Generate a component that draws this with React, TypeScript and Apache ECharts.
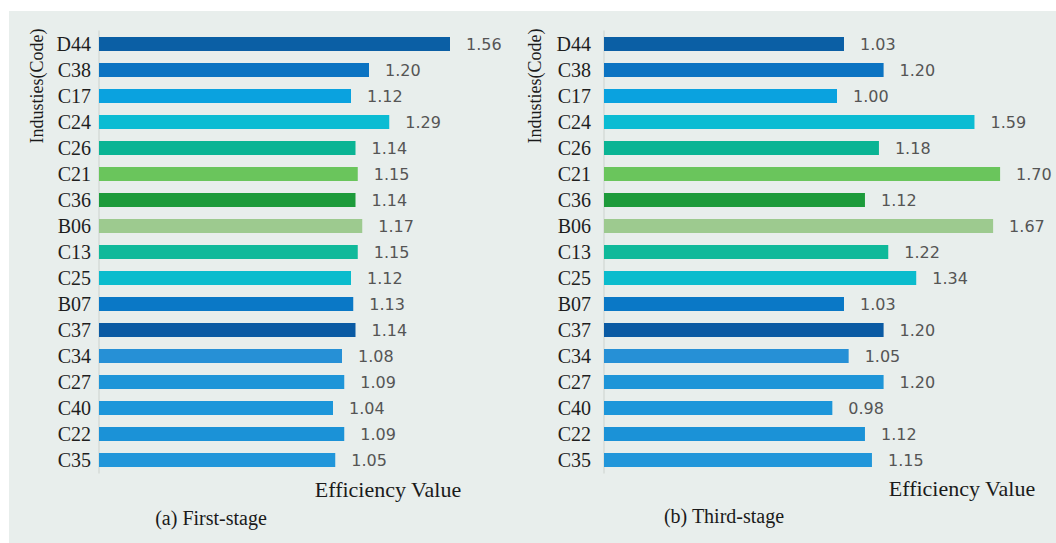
import React, { useEffect, useRef } from "react";
import * as echarts from "echarts";

const categories = ["D44", "C38", "C17", "C24", "C26", "C21", "C36", "B06", "C13", "C25", "B07", "C37", "C34", "C27", "C40", "C22", "C35"];
const firstStage = [1.56, 1.2, 1.12, 1.29, 1.14, 1.15, 1.14, 1.17, 1.15, 1.12, 1.13, 1.14, 1.08, 1.09, 1.04, 1.09, 1.05];
const thirdStage = [1.03, 1.2, 1.0, 1.59, 1.18, 1.7, 1.12, 1.67, 1.22, 1.34, 1.03, 1.2, 1.05, 1.2, 0.98, 1.12, 1.15];
const barColors = ["#0b5fa5", "#0b73c2", "#0aa2df", "#0bbcd3", "#0ab494", "#6ac55c", "#1d9b3b", "#9dca8f", "#0fb99a", "#0bbccd", "#0a78c6", "#0a5aa3", "#2690d6", "#1e95d8", "#1c96da", "#1b92d7", "#2196da"];
const axisTitle = "Industies(Code)";
const valueTitle = "Efficiency Value";
const panelTitles = ["(a) First-stage", "(b) Third-stage"];

const serif = "Times New Roman, Liberation Serif, serif";
const sans = "DejaVu Sans";

export default function App() {
  const ref = useRef<HTMLDivElement>(null);
  useEffect(() => {
    if (!ref.current) return;
    const chart = echarts.init(ref.current, undefined, { renderer: "svg" });
    const mkY = (gi: number, margin: number) => ({
      type: "category",
      gridIndex: gi,
      data: categories,
      inverse: true,
      axisTick: { show: false },
      axisLine: { show: true, lineStyle: { color: "#d6dbd9", width: 1.5 } },
      axisLabel: { interval: 0, hideOverlap: false, fontFamily: serif, fontSize: 20, color: "#1e1e1e", margin },
    });
    const mkX = (gi: number, max: number) => ({
      type: "value",
      gridIndex: gi,
      min: 0,
      max,
      show: false,
      splitLine: { show: false },
    });
    const mkSeries = (gi: number, vals: number[]) => ({
      type: "bar",
      xAxisIndex: gi,
      yAxisIndex: gi,
      barWidth: 14,
      data: vals.map((v, i) => ({ value: v, itemStyle: { color: barColors[i] } })),
      label: {
        show: true,
        position: "right",
        distance: 16,
        fontFamily: sans,
        fontSize: 16,
        color: "#555",
        formatter: (p: any) => Number(p.value).toFixed(2),
      },
    });
    const txt = (x: number, y: number, text: string, size: number, rot = 0) => ({
      type: "text",
      x,
      y,
      rotation: rot,
      style: { text, fontFamily: serif, fontSize: size, fill: "#1a1a1a", align: "center", verticalAlign: "middle" },
    });
    chart.setOption({
      animation: false,
      backgroundColor: "#ffffff",
      grid: [
        { left: 99, top: 31, width: 450, height: 442 },
        { left: 604, top: 31, width: 419.4, height: 442 },
      ],
      xAxis: [mkX(0, 2), mkX(1, 1.8)],
      yAxis: [mkY(0, 8), mkY(1, 13)],
      series: [mkSeries(0, firstStage), mkSeries(1, thirdStage)],
      graphic: [
        { type: "rect", z: -10, silent: true, shape: { x: 9, y: 11, width: 1047, height: 532 }, style: { fill: "#e8eeec" } },
        txt(37, 86, axisTitle, 18, Math.PI / 2),
        txt(535, 86, axisTitle, 18, Math.PI / 2),
        txt(388, 489, valueTitle, 22),
        txt(962, 488, valueTitle, 22),
        txt(211, 518, panelTitles[0], 20),
        txt(724, 516, panelTitles[1], 20),
      ],
    });
    return () => chart.dispose();
  }, []);
  return <div ref={ref} style={{ position: "fixed", left: 0, top: 0, width: 1056, height: 543 }} />;
}
